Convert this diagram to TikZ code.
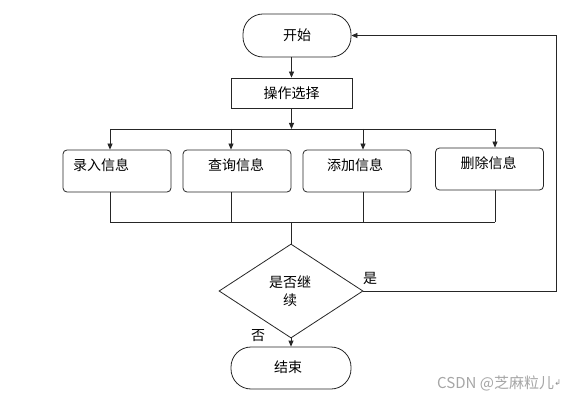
\documentclass[tikz,border=0pt]{standalone}
\usepackage{fontspec}
\setmainfont{Noto Sans CJK SC}
\newfontfamily\symfont{DejaVu Sans}
\usetikzlibrary{shapes.geometric,arrows.meta,calc}
\begin{document}
\begin{tikzpicture}[x=1pt,y=-1pt,
  line/.style={draw=black!85, line width=0.8pt},
  arr/.style={line, -{Triangle[length=6pt,width=5pt]}},
  term/.style={draw=black!85, line width=0.8pt, rectangle, rounded corners=20pt, inner sep=0pt},
  procbox/.style={draw=black!85, line width=0.8pt, rectangle, rounded corners=4pt, minimum width=108pt, minimum height=42pt, inner sep=0pt},
  opbox/.style={draw=black!85, line width=0.8pt, rectangle, minimum width=121pt, minimum height=30pt, inner sep=0pt},
  decision/.style={draw=black!85, line width=0.8pt, diamond, minimum width=144pt, minimum height=94pt, inner sep=0pt},
  txt/.style={font=\fontsize{14}{18}\selectfont, inner sep=0pt, align=center}
]
\useasboundingbox (0,0) rectangle (588,403);
\fill[white] (0,0) rectangle (588,403);

% nodes
\node[term, minimum width=108pt, minimum height=43pt] (start) at (297,35.5) {};
\node[txt] at (297,35.5) {开始};
\node[opbox] (op) at (291.5,93) {};
\node[txt] at (291.5,93) {操作选择};

\node[procbox] (b1) at (117,171) {};
\node[txt] at (101,165) {录入信息};
\node[procbox] (b2) at (237,171) {};
\node[txt] at (236,165) {查询信息};
\node[procbox] (b3) at (357,171) {};
\node[txt] at (355,165) {添加信息};
\node[procbox] (b4) at (489.5,169) {};
\node[txt] at (488.5,163) {删除信息};

\node[decision] (dec) at (291,291) {};
\node[txt] at (290,291) {是否继\\续};

\node[term, minimum width=120pt, minimum height=42pt] (end) at (291,368) {};
\node[txt] at (288,367) {结束};

\node[txt] (yes) at (370,278) {是};
\node[txt] (no) at (258,336) {否};

\node[font=\fontsize{15}{17}\selectfont, text=black!35, inner sep=0pt, anchor=west] (wm) at (437,383) {CSDN @芝麻粒儿};
\node[font=\symfont\fontsize{8}{9}\selectfont, text=black!45, inner sep=0pt, anchor=west] (ret) at (wm.east) {↲};

% helper coordinates
\coordinate (bus) at (0,129);
\coordinate (coll) at (0,222);
\coordinate (c1) at (110,0);
\coordinate (c2) at (231,0);
\coordinate (c3) at (363,0);
\coordinate (c4) at (495,0);
\coordinate (loopx) at (556,0);

% connectors
\draw[arr] (start.south -| op) -- (op.north);
\draw[arr] (op.south) -- (op.south |- bus);
\draw[line] (c1 |- bus) -- (c4 |- bus);
\draw[arr] (c1 |- bus) -- (c1 |- b1.north);
\draw[arr] (c2 |- bus) -- (c2 |- b2.north);
\draw[arr] (c3 |- bus) -- (c3 |- b3.north);
\draw[arr] (c4 |- bus) -- (c4 |- b4.north);

\draw[line] (c1 |- b1.south) -- (c1 |- coll);
\draw[line] (c2 |- b2.south) -- (c2 |- coll);
\draw[line] (c3 |- b3.south) -- (c3 |- coll);
\draw[line] (c4 |- b4.south) -- (c4 |- coll);
\draw[line] (c1 |- coll) -- (c4 |- coll);
\draw[line] (dec.north |- coll) -- (dec.north);

\draw[arr] (dec.east) -- (dec.east -| loopx) -- (loopx |- start.east) -- (start.east);
\draw[arr] (dec.south) -- (end.north);
\end{tikzpicture}
\end{document}
